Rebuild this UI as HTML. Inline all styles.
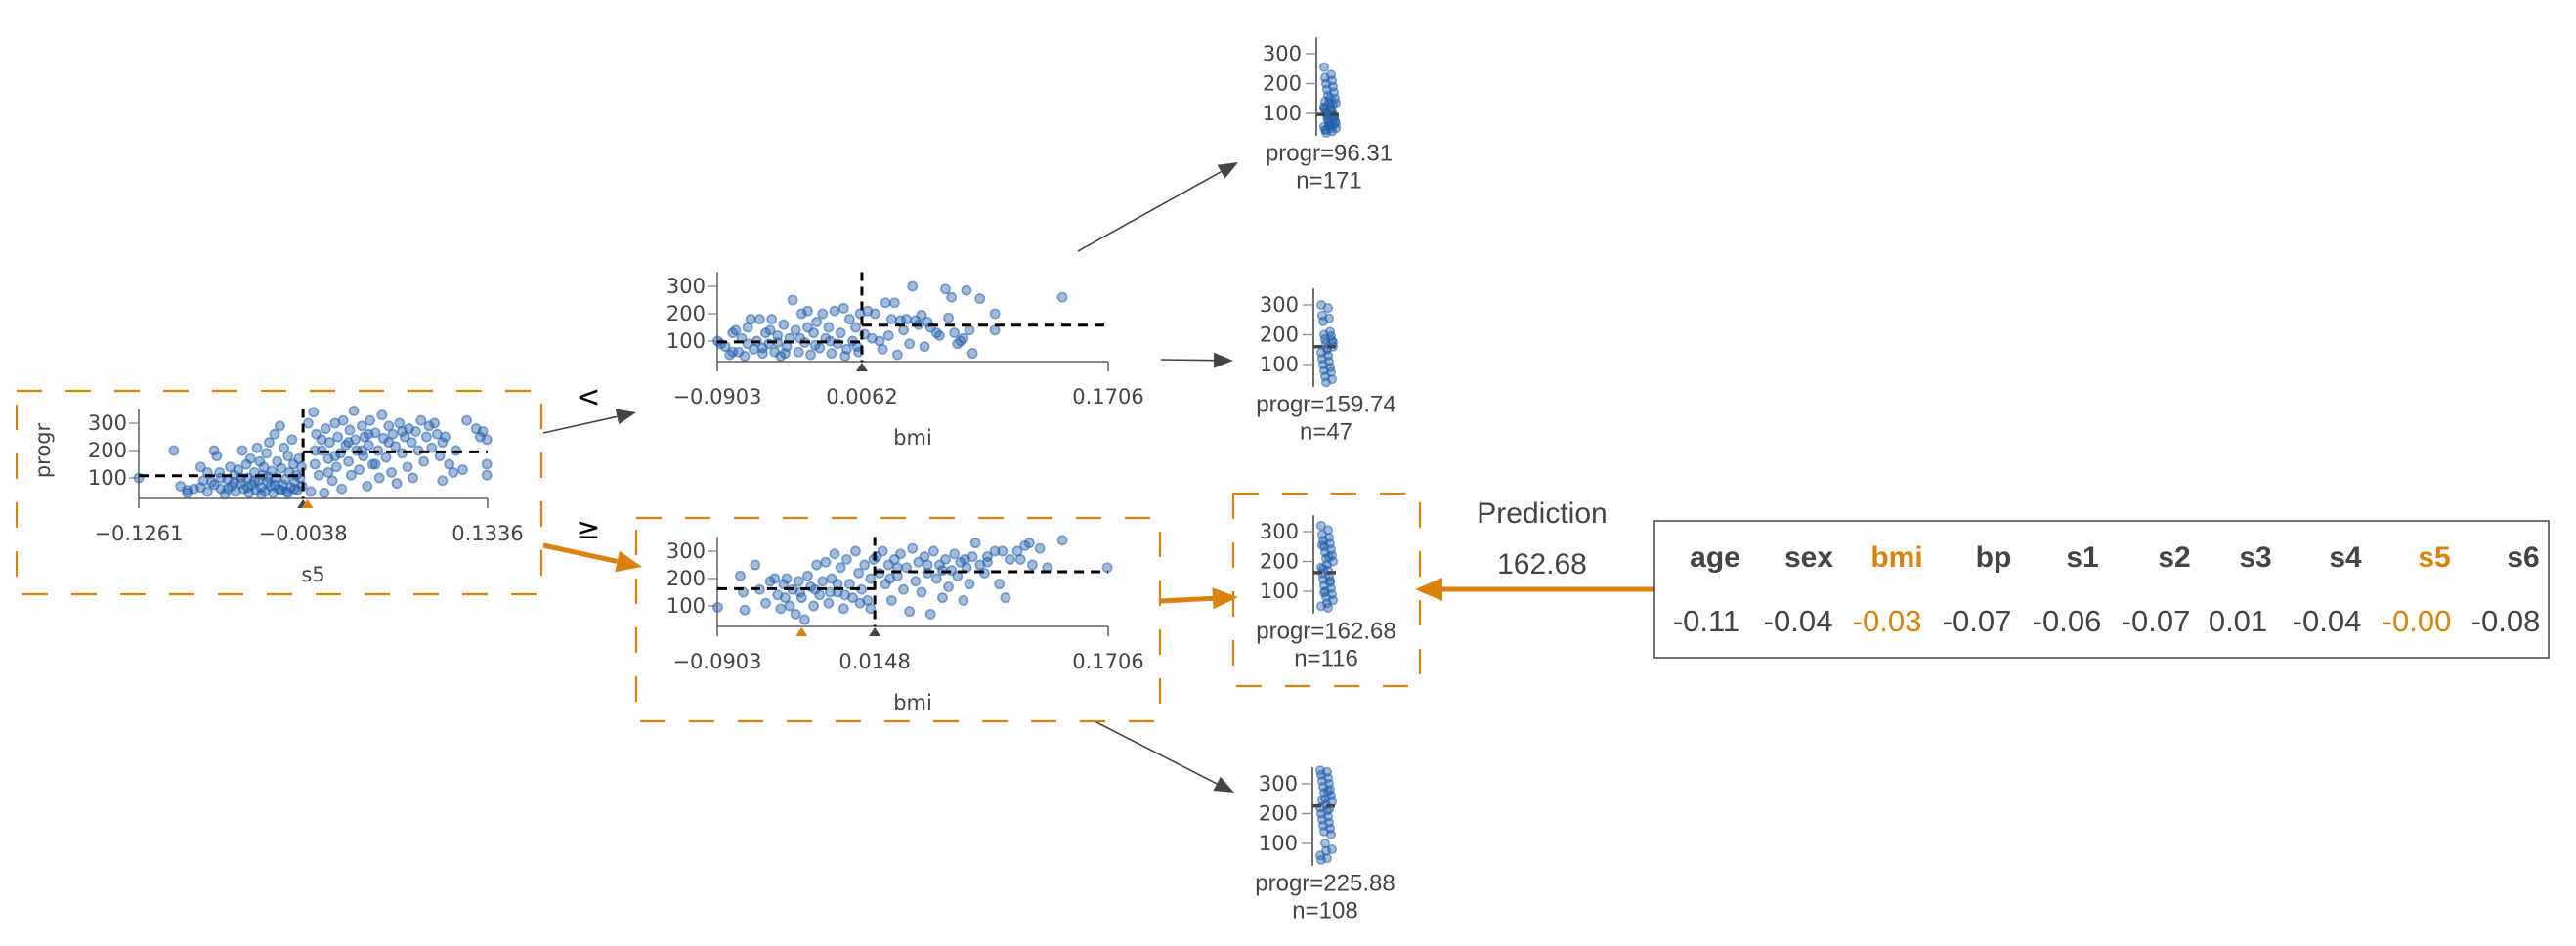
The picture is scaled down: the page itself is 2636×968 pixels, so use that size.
<!DOCTYPE html>
<html><head><meta charset="utf-8"><style>
html,body{margin:0;padding:0;background:#fff;}
svg{display:block;}
.tk{font-family:"DejaVu Sans","Liberation Sans",sans-serif;font-size:21px;fill:#444;}
.lb{font-family:"Liberation Sans",sans-serif;fill:#444;}
</style></head><body>
<svg id="chart" width="2636" height="968" viewBox="0 0 2636 968" xmlns="http://www.w3.org/2000/svg"></svg>
<script>
// ---- data ----
const rootX = [-0.126,-0.100,-0.095,-0.090,-0.090,-0.085,-0.080,-0.078,-0.075,-0.072,-0.070,-0.068,-0.066,-0.065,-0.062,-0.060,-0.058,-0.057,-0.055,-0.054,-0.052,-0.050,-0.049,-0.048,-0.046,-0.045,-0.044,-0.043,-0.042,-0.040,-0.039,-0.038,-0.037,-0.036,-0.035,-0.034,-0.033,-0.032,-0.031,-0.030,-0.029,-0.028,-0.027,-0.026,-0.025,-0.024,-0.023,-0.022,-0.021,-0.020,-0.019,-0.018,-0.017,-0.016,-0.015,-0.014,-0.013,-0.012,-0.011,-0.010,-0.009,-0.008,-0.007,-0.006,-0.005,-0.0045,-0.060,-0.045,-0.035,-0.025,-0.015,-0.010,-0.050,-0.040,-0.030,-0.020,-0.055,-0.065,-0.070,-0.075,-0.080,
0.0,0.002,0.004,0.005,0.006,0.008,0.010,0.012,0.013,0.015,0.016,0.018,0.020,0.021,0.022,0.024,0.025,0.026,0.028,0.030,0.031,0.032,0.034,0.035,0.036,0.038,0.040,0.041,0.042,0.044,0.045,0.046,0.048,0.050,0.052,0.053,0.055,0.056,0.058,0.060,0.062,0.063,0.065,0.066,0.068,0.070,0.072,0.074,0.075,0.077,0.078,0.080,0.082,0.084,0.086,0.088,0.090,0.092,0.094,0.096,0.098,0.100,0.102,0.105,0.108,0.110,0.115,0.118,0.125,0.128,0.133,0.133,0.133,0.130,0.100,0.040,0.030,0.020,0.010,0.050,0.060,0.070,0.045,0.015,0.005];
const rootY = [100,200,70,45,55,60,140,90,50,85,200,180,120,60,40,95,140,70,110,50,130,80,200,60,150,100,45,170,75,120,55,210,90,160,65,110,140,50,190,85,230,70,125,45,260,100,160,60,290,135,75,210,95,50,180,120,65,240,150,85,110,55,170,100,140,70,60,65,40,75,45,60,100,90,105,55,85,100,75,120,65,
300,50,340,150,260,110,200,45,280,170,230,90,300,140,250,190,60,310,220,160,275,110,345,240,200,130,290,180,250,70,220,310,150,265,200,100,330,245,175,290,120,260,215,80,300,190,250,140,280,230,100,270,200,310,160,250,290,210,300,260,180,230,250,150,120,200,130,310,280,250,240,150,110,270,90,200,230,180,240,150,230,270,260,120,200];
const rootMeans = [108, 195];
const topX = [-0.090,-0.088,-0.085,-0.082,-0.080,-0.078,-0.076,-0.074,-0.072,-0.070,-0.068,-0.066,-0.064,-0.062,-0.060,-0.058,-0.056,-0.054,-0.052,-0.050,-0.048,-0.046,-0.044,-0.042,-0.040,-0.038,-0.036,-0.034,-0.032,-0.030,-0.028,-0.026,-0.024,-0.022,-0.020,-0.018,-0.016,-0.014,-0.012,-0.010,-0.008,-0.006,-0.004,-0.002,0.0,0.002,0.004,0.005,-0.070,-0.060,-0.050,-0.045,-0.035,-0.025,-0.015,-0.005,0.003,-0.080,-0.055,-0.030,
0.008,0.010,0.013,0.015,0.018,0.020,0.022,0.024,0.026,0.028,0.030,0.032,0.034,0.036,0.038,0.040,0.042,0.044,0.046,0.048,0.050,0.052,0.056,0.058,0.062,0.064,0.066,0.068,0.070,0.072,0.074,0.076,0.078,0.080,0.085,0.095,0.095,0.140];
const topY = [100,90,80,50,130,140,60,110,45,150,180,70,100,180,55,130,90,180,60,120,45,160,80,110,250,140,60,200,95,210,50,130,170,75,200,110,150,55,210,90,130,220,70,180,100,150,60,200,90,75,95,55,110,85,100,45,80,60,140,150,
125,210,110,200,100,70,240,120,180,240,50,175,140,180,90,300,175,160,195,80,170,150,130,120,290,185,260,130,90,100,110,285,140,55,255,200,140,260];
const topMeans = [97, 158];
const botX = [-0.090,-0.075,-0.073,-0.072,-0.065,-0.062,-0.058,-0.055,-0.052,-0.050,-0.048,-0.046,-0.044,-0.042,-0.040,-0.038,-0.036,-0.034,-0.032,-0.030,-0.028,-0.026,-0.024,-0.022,-0.020,-0.018,-0.016,-0.014,-0.012,-0.010,-0.008,-0.006,-0.004,-0.002,0.0,0.002,0.004,0.006,0.008,0.010,0.012,0.014,-0.035,-0.025,-0.015,-0.005,0.005,0.012,-0.045,-0.010,
0.016,0.018,0.020,0.022,0.024,0.026,0.028,0.030,0.032,0.034,0.036,0.038,0.040,0.042,0.044,0.046,0.048,0.050,0.052,0.054,0.056,0.058,0.060,0.062,0.064,0.066,0.068,0.070,0.072,0.074,0.076,0.078,0.080,0.082,0.085,0.088,0.090,0.095,0.098,0.100,0.102,0.105,0.110,0.112,0.115,0.118,0.120,0.125,0.130,0.140,0.170,0.050,0.030,0.060,0.025,0.090,0.075];
const botY = [95,210,150,85,250,160,110,190,200,140,90,180,200,100,160,70,190,130,50,210,170,100,250,140,190,260,110,200,290,150,240,90,270,180,130,300,220,160,250,120,200,270,150,160,150,140,110,90,130,180,
280,220,300,180,250,120,270,210,290,160,240,80,310,190,260,150,280,220,70,300,200,250,130,270,170,230,290,210,260,120,240,180,280,330,250,220,260,300,180,300,130,270,300,270,320,330,250,310,240,340,240,250,240,230,200,280,270];
const botMeans = [163, 225];
const leaf1Y = [255,230,220,210,200,190,180,170,160,150,140,135,130,120,115,110,105,100,95,90,85,80,75,70,65,60,55,50,45,40,35,130,100,90,80,70,60,50,150,120,110,140,60,45];
const leaf2Y = [300,290,265,255,245,210,200,195,185,180,170,160,150,140,130,120,110,100,90,80,75,60,50,40,175,155];
const leaf3Y = [320,305,290,280,270,260,250,240,230,220,210,200,190,180,170,160,150,140,130,120,110,100,90,80,70,60,50,45,255,215,175,135,95];
const leaf4Y = [345,340,330,320,310,300,290,280,270,260,250,240,230,220,210,200,190,180,170,160,150,140,130,100,80,75,60,50,45,275,245,215];
const leafMeans = [96.31, 159.74, 162.68, 225.88];
const leafNs = [171, 47, 116, 108];
const features = ["age","sex","bmi","bp","s1","s2","s3","s4","s5","s6"];
const featVals = ["-0.11","-0.04","-0.03","-0.07","-0.06","-0.07","0.01","-0.04","-0.00","-0.08"];
const pathFeatures = ["bmi","s5"];
const prediction = "162.68";

// ---- drawing ----
const NS = "http://www.w3.org/2000/svg";
const svg = document.getElementById('chart');
const ORANGE = "#d9820c", GREY = "#444", BLUE = "rgba(37,96,172,0.42)", BLUES = "rgba(37,96,172,0.55)";
function el(tag, attrs, parent){ const e=document.createElementNS(NS,tag); for(const k in attrs) e.setAttribute(k,attrs[k]); (parent||svg).appendChild(e); return e; }
function txt(s, attrs, parent){ const t=el('text',attrs,parent); t.textContent=s; return t; }
function arrow(x1,y1,x2,y2,color,w,hl,hw,name){
  const g=el('g',{});
  
  
  const dx=x2-x1, dy=y2-y1, L=Math.hypot(dx,dy), ux=dx/L, uy=dy/L;
  const bx=x2-ux*hl, by=y2-uy*hl;
  el('line',{x1:x1,y1:y1,x2:bx,y2:by,stroke:color,'stroke-width':w},g);
  el('polygon',{points:`${x2},${y2} ${bx-uy*hw},${by+ux*hw} ${bx+uy*hw},${by-ux*hw}`,fill:color},g);
}
function box(x,y,w,h,name){
  const r=el('rect',{x:x,y:y,width:w,height:h,fill:'none',stroke:ORANGE,'stroke-width':2.2,'stroke-dasharray':'26 24'});
  
  
}
function splitPlot(o){
  const g=el('g',{});
  
  
  const sx=v=>o.x0+(v-o.dmin)/(o.dmax-o.dmin)*(o.x1-o.x0);
  const sy=v=>o.yz - v*0.28;
  el('line',{x1:o.x0,y1:sy(352),x2:o.x0,y2:o.base,stroke:GREY,'stroke-width':1.3},g);
  el('line',{x1:o.x0,y1:o.base,x2:o.x1,y2:o.base,stroke:GREY,'stroke-width':1.3},g);
  el('line',{x1:o.x0,y1:o.base,x2:o.x0,y2:o.base+10,stroke:GREY,'stroke-width':1.3},g);
  el('line',{x1:o.x1,y1:o.base,x2:o.x1,y2:o.base+10,stroke:GREY,'stroke-width':1.3},g);
  [100,200,300].forEach(v=>{
    el('line',{x1:o.x0-10,y1:sy(v),x2:o.x0,y2:sy(v),stroke:'#888','stroke-width':1.3},g);
    const t=txt(String(v),{x:o.x0-12,y:sy(v)+7,'text-anchor':'end',class:'tk'},g);
    
    
  });
  for(let i=0;i<o.xs.length;i++){
    const c=el('circle',{cx:sx(o.xs[i]),cy:sy(o.ys[i]),r:4.6,fill:BLUE,stroke:BLUES,'stroke-width':1.7},g);
    
    
  }
  const spx=sx(o.split);
  el('line',{x1:o.x0,y1:sy(o.means[0]),x2:spx,y2:sy(o.means[0]),stroke:'#000','stroke-width':3,'stroke-dasharray':'10 7'},g);
  el('line',{x1:spx,y1:sy(o.means[1]),x2:o.x1,y2:sy(o.means[1]),stroke:'#000','stroke-width':3,'stroke-dasharray':'10 7'},g);
  el('line',{x1:spx,y1:sy(352),x2:spx,y2:o.base,stroke:'#000','stroke-width':3,'stroke-dasharray':'9 6'},g);
  el('polygon',{points:`${spx},${o.base+1} ${spx-6},${o.base+10} ${spx+6},${o.base+10}`,fill:GREY},g);
  if(o.inst!==undefined){ const ix=sx(o.inst); el('polygon',{points:`${ix},${o.base+1} ${ix-6},${o.base+10} ${ix+6},${o.base+10}`,fill:ORANGE},g); }
  const ty=o.base+43;
  txt(o.labels[0],{x:o.x0,y:ty,'text-anchor':'middle',class:'tk'},g);
  txt(o.labels[1],{x:spx,y:ty,'text-anchor':'middle',class:'tk'},g);
  txt(o.labels[2],{x:o.x1,y:ty,'text-anchor':'middle',class:'tk'},g);
  const xl=txt(o.feat,{x:(o.x0+o.x1)/2,y:o.base+85,'text-anchor':'middle',class:'tk'},g);
  
  
  if(o.ylab){ const yl=txt('progr',{x:0,y:0,'text-anchor':'middle',class:'tk',transform:`translate(${o.x0-91},${sy(200)}) rotate(-90)`},g);
    
     }
}
function leafPlot(ax,y0,ys,mean,n,name){
  const g=el('g',{});
  
  
  const sy=v=>y0-v*0.305;
  el('line',{x1:ax,y1:sy(355),x2:ax,y2:sy(25),stroke:'#222','stroke-width':1.3},g);
  [100,200,300].forEach(v=>{
    el('line',{x1:ax-11,y1:sy(v),x2:ax,y2:sy(v),stroke:'#888','stroke-width':1.3},g);
    txt(String(v),{x:ax-15,y:sy(v)+7,'text-anchor':'end',class:'tk'},g);
  });
  for(let i=0;i<ys.length;i++){
    const jx=ax+8+((i*7)%13);
    const c=el('circle',{cx:jx,cy:sy(ys[i]),r:4.3,fill:BLUE,stroke:BLUES,'stroke-width':1.5},g);
    
    
  }
  el('line',{x1:ax,y1:sy(mean),x2:ax+26,y2:sy(mean),stroke:'#444','stroke-width':3.5,'stroke-dasharray':'9 5'},g);
  txt('progr='+mean.toFixed(2),{x:ax+13,y:y0+18,'text-anchor':'middle',class:'lb','font-size':24},g);
  txt('n='+n,{x:ax+13,y:y0+46,'text-anchor':'middle',class:'lb','font-size':24},g);
}

box(17,400,537,208,'root-highlight-box');
box(651,530,536,208,'bmi-node-highlight-box');
box(1262,505,191,197,'leaf-highlight-box');

splitPlot({name:'root-split-s5',x0:142,x1:499,base:510,yz:517,dmin:-0.1261,dmax:0.1336,split:-0.0038,inst:-0.0005,xs:rootX,ys:rootY,means:rootMeans,labels:['\u22120.1261','\u22120.0038','0.1336'],feat:'s5',ylab:true});
splitPlot({name:'split-bmi-left',x0:734,x1:1134,base:370,yz:377,dmin:-0.0903,dmax:0.1706,split:0.0062,xs:topX,ys:topY,means:topMeans,labels:['\u22120.0903','0.0062','0.1706'],feat:'bmi'});
splitPlot({name:'split-bmi-right',x0:734,x1:1134,base:641,yz:648,dmin:-0.0903,dmax:0.1706,split:0.0148,inst:-0.0340,xs:botX,ys:botY,means:botMeans,labels:['\u22120.0903','0.0148','0.1706'],feat:'bmi'});

leafPlot(1347,146.5,leaf1Y,leafMeans[0],leafNs[0],'leaf-1');
leafPlot(1344,403.5,leaf2Y,leafMeans[1],leafNs[1],'leaf-2');
leafPlot(1344,635.5,leaf3Y,leafMeans[2],leafNs[2],'leaf-3');
leafPlot(1343,893.5,leaf4Y,leafMeans[3],leafNs[3],'leaf-4');

arrow(556,443,651,422,GREY,1.6,20,8,'edge-root-left');
arrow(556,558,657,580,ORANGE,5,26,11,'edge-root-right');
arrow(1103,257,1267,166,GREY,1.6,20,8,'edge-to-leaf-1');
arrow(1188,368,1262,369,GREY,1.6,20,8,'edge-to-leaf-2');
arrow(1188,615,1267,611,ORANGE,5,26,11,'edge-to-leaf-3');
arrow(1122,739,1263,811,GREY,1.6,20,8,'edge-to-leaf-4');
arrow(1693,603,1448,603,ORANGE,5,28,12,'prediction-arrow');

const lt=txt('<',{x:602,y:416,'text-anchor':'middle','font-family':'"DejaVu Sans",sans-serif','font-size':30,fill:'#000'});


const ge=txt('\u2265',{x:602,y:551,'text-anchor':'middle','font-family':'"DejaVu Sans",sans-serif','font-size':30,fill:'#000'});



const p1=txt('Prediction',{x:1578,y:535,'text-anchor':'middle',class:'lb','font-size':30});


const p2=txt(prediction,{x:1578,y:587,'text-anchor':'middle',class:'lb','font-size':30});



const tb=el('rect',{x:1693,y:533,width:915,height:140,fill:'#fff',stroke:'#444','stroke-width':1.5});


const colX=[1755,1851,1941,2040,2131,2225,2308,2400,2491,2582];
const valX=[1746,1840,1931,2023,2115,2206,2290,2381,2473,2564];
features.forEach((f,i)=>{
  const c=pathFeatures.includes(f)?ORANGE:GREY;
  const h=txt(f,{x:colX[i],y:580,'text-anchor':'middle',class:'lb','font-size':30,'font-weight':'bold',fill:c});
  
  
  h.style.fill=c;
  const v=txt(featVals[i],{x:valX[i],y:646,'text-anchor':'middle',class:'lb','font-size':31,fill:c});
  
  
  v.style.fill=c;
});
</script>
</body></html>
